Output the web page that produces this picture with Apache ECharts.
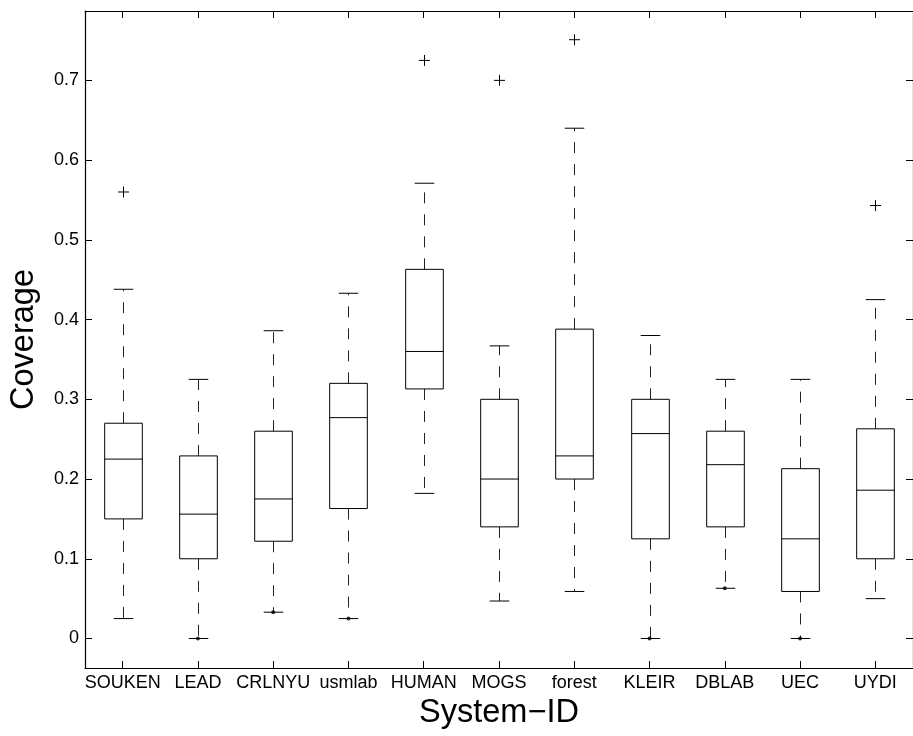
<!DOCTYPE html>
<html lang="en">
<head>
  <meta charset="UTF-8">
  <title>Coverage by System-ID</title>
  <script src="https://cdn.jsdelivr.net/npm/echarts@6/dist/echarts.min.js"></script>
</head>
<body style="margin:0;background:#fff;">
  <div id="main" style="width:913px;height:736px;"></div>
  <script type="text/javascript">
    var categories = ['SOUKEN', 'LEAD', 'CRLNYU', 'usmlab', 'HUMAN', 'MOGS', 'forest', 'KLEIR', 'DBLAB', 'UEC', 'UYDI'];
    var lowWhisker = [0.025, 0.0, 0.033, 0.025, 0.182, 0.047, 0.059, 0.0, 0.063, 0.0, 0.050];
    var q1 = [0.150, 0.100, 0.122, 0.163, 0.313, 0.140, 0.200, 0.125, 0.140, 0.059, 0.100];
    var median = [0.225, 0.156, 0.175, 0.277, 0.360, 0.200, 0.229, 0.257, 0.218, 0.125, 0.186];
    var q3 = [0.270, 0.229, 0.260, 0.320, 0.463, 0.300, 0.388, 0.300, 0.260, 0.213, 0.263];
    var highWhisker = [0.438, 0.325, 0.386, 0.433, 0.571, 0.367, 0.640, 0.380, 0.325, 0.325, 0.425];
    // outliers drawn as '+'
    var outliers = [['SOUKEN', 0.560], ['HUMAN', 0.725], ['MOGS', 0.700], ['forest', 0.751], ['UYDI', 0.543]];
    // small dots sitting on some lower whisker ends
    var whiskerDots = [['LEAD', 0.0], ['CRLNYU', 0.033], ['usmlab', 0.025], ['KLEIR', 0.0], ['DBLAB', 0.063], ['UEC', 0.0]];
    var yTicks = [0, 0.1, 0.2, 0.3, 0.4, 0.5, 0.6, 0.7];
    var yTickLabels = ['0', '0.1', '0.2', '0.3', '0.4', '0.5', '0.6', '0.7'];

    var boxData = categories.map(function (c, i) {
      return [i, lowWhisker[i], q1[i], median[i], q3[i], highWhisker[i]];
    });

    var font = 'Liberation Sans, Arial, Helvetica, sans-serif';
    var ink = '#000';

    function renderBox(params, api) {
      var x = api.value(0);
      var band = api.size([1, 0])[0];
      var half = band * 0.25;
      var capHalf = band * 0.13;
      var pLow = api.coord([x, api.value(1)]);
      var pQ1 = api.coord([x, api.value(2)]);
      var pMed = api.coord([x, api.value(3)]);
      var pQ3 = api.coord([x, api.value(4)]);
      var pHigh = api.coord([x, api.value(5)]);
      var cx = Math.round(pMed[0]) + 0.5;
      var solid = { stroke: ink, lineWidth: 1, fill: null };
      var dashed = { stroke: '#222', lineWidth: 1, lineDash: [11, 11] };
      return {
        type: 'group',
        children: [
          { type: 'line', shape: { x1: cx, y1: pQ3[1], x2: cx, y2: pHigh[1] }, style: dashed },
          { type: 'line', shape: { x1: cx, y1: pQ1[1], x2: cx, y2: pLow[1] }, style: dashed },
          { type: 'line', shape: { x1: cx - capHalf, y1: pHigh[1], x2: cx + capHalf, y2: pHigh[1] }, style: solid },
          { type: 'line', shape: { x1: cx - capHalf, y1: pLow[1], x2: cx + capHalf, y2: pLow[1] }, style: solid },
          { type: 'rect', shape: { x: cx - half, y: pQ3[1], width: half * 2, height: pQ1[1] - pQ3[1] }, style: solid },
          { type: 'line', shape: { x1: cx - half, y1: pMed[1], x2: cx + half, y2: pMed[1] }, style: solid }
        ]
      };
    }

    function renderPlus(params, api) {
      var p = api.coord([api.value(0), api.value(1)]);
      var cx = Math.round(p[0]) + 0.5;
      var s = 5.5;
      var st = { stroke: ink, lineWidth: 1 };
      return {
        type: 'group',
        children: [
          { type: 'line', shape: { x1: cx - s, y1: p[1], x2: cx + s, y2: p[1] }, style: st },
          { type: 'line', shape: { x1: cx, y1: p[1] - s, x2: cx, y2: p[1] + s }, style: st }
        ]
      };
    }

    var myChart = echarts.init(document.getElementById('main'), null, { renderer: 'canvas' });

    var catTick = { show: true, inside: true, length: 7, interval: 0, alignWithLabel: true, lineStyle: { color: ink, width: 1 } };
    var valTick = { show: true, inside: true, length: 7, customValues: yTicks, lineStyle: { color: ink, width: 1 } };

    var option = {
      animation: false,
      backgroundColor: '#fff',
      grid: { left: 84, right: -5, top: 11, bottom: 68 },
      xAxis: [
        {
          type: 'category',
          data: categories,
          position: 'bottom',
          name: 'System\u2212ID',
          nameLocation: 'middle',
          nameGap: 25,
          nameTextStyle: { fontFamily: font, fontSize: 32.5, color: ink },
          axisLine: { show: true, onZero: false, lineStyle: { color: ink, width: 1.2 } },
          axisTick: catTick,
          axisLabel: { interval: 0, hideOverlap: false, margin: 6, fontFamily: font, fontSize: 18, color: ink },
          splitLine: { show: false }
        },
        {
          type: 'category',
          data: categories,
          position: 'top',
          axisLine: { show: true, onZero: false, lineStyle: { color: ink, width: 1.2 } },
          axisTick: catTick,
          axisLabel: { show: false },
          splitLine: { show: false }
        }
      ],
      yAxis: [
        {
          type: 'value',
          min: -0.037,
          max: 0.787,
          position: 'left',
          name: 'Coverage',
          nameLocation: 'middle',
          nameRotate: 90,
          nameGap: 44,
          nameTextStyle: { fontFamily: font, fontSize: 32.5, color: ink },
          axisLine: { show: true, onZero: false, lineStyle: { color: ink, width: 1.2 } },
          axisTick: valTick,
          axisLabel: {
            margin: 6, fontFamily: font, fontSize: 18, color: ink,
            customValues: yTicks,
            formatter: function (v) { return yTickLabels[yTicks.indexOf(Math.round(v * 10) / 10)]; }
          },
          splitLine: { show: false }
        },
        {
          type: 'value',
          min: -0.037,
          max: 0.787,
          position: 'right',
          axisLine: { show: true, onZero: false, lineStyle: { color: ink, width: 1.2 } },
          axisTick: valTick,
          axisLabel: { show: false },
          splitLine: { show: false }
        }
      ],
      series: [
        {
          type: 'custom',
          xAxisIndex: 0,
          yAxisIndex: 0,
          renderItem: renderBox,
          encode: { x: 0, y: [1, 2, 3, 4, 5] },
          data: boxData,
          silent: true
        },
        {
          type: 'custom',
          xAxisIndex: 0,
          yAxisIndex: 0,
          renderItem: renderPlus,
          encode: { x: 0, y: 1 },
          data: outliers,
          silent: true
        },
        {
          type: 'scatter',
          xAxisIndex: 0,
          yAxisIndex: 0,
          symbol: 'circle',
          symbolSize: 4,
          itemStyle: { color: ink },
          data: whiskerDots,
          silent: true
        }
      ]
    };

    myChart.setOption(option);
  </script>
</body>
</html>
